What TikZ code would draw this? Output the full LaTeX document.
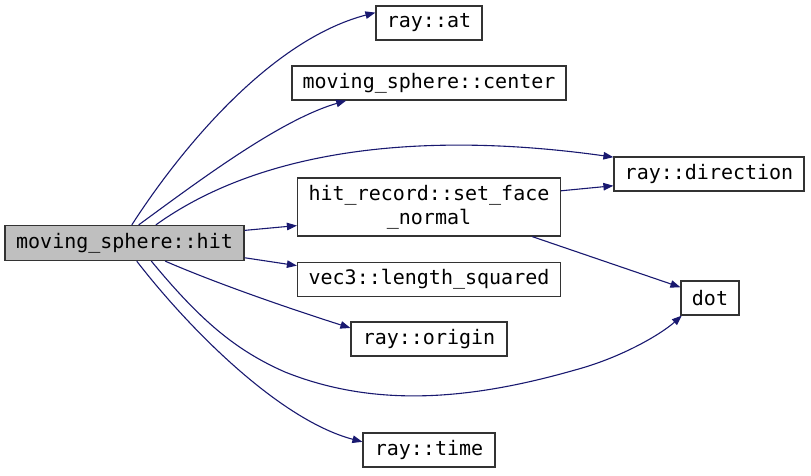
\documentclass[tikz,border=0pt]{standalone}
\usepackage{fontspec}
\setmonofont{DejaVu Sans Mono}
\usetikzlibrary{arrows.meta}
\definecolor{edgeblue}{HTML}{191970}
\definecolor{boxgray}{HTML}{BFBFBF}
\tikzset{
  fn/.style={draw=black!80, line width=1.2pt, fill=white, inner sep=0pt, minimum height=34pt,
    font=\ttfamily\fontsize{20}{24}\selectfont, align=center, anchor=center},
  cur/.style={fn, fill=boxgray},
  call/.style={draw=edgeblue, line width=1.1pt, -{Triangle[length=10pt,width=7.5pt]}},
}
\begin{document}
\begin{tikzpicture}[x=1pt,y=-1pt]
\useasboundingbox (0,0) rectangle (811,475);
\node[cur, minimum width=239pt, minimum height=35pt] (hit) at (124.5,243) {moving\_sphere::hit};
\node[fn, minimum width=106pt] (at) at (429,23) {ray::at};
\node[fn, minimum width=274pt] (msc) at (429,83) {moving\_sphere::center};
\node[fn, minimum width=190pt] (dir) at (709,174) {ray::direction};
\node[fn, minimum width=263pt, minimum height=58pt] (sfn) at (429,207) {hit\_record::set\_face\\\_normal};
\node[fn, minimum width=58pt] (dot) at (710,298) {dot};
\node[fn, minimum width=263pt] (vls) at (429,279.5) {vec3::length\_squared};
\node[fn, minimum width=156pt] (org) at (429,339) {ray::origin};
\node[fn, minimum width=132pt] (time) at (429,450) {ray::time};

\draw[call] (hit.68) .. controls (180,150) and (270,40) .. (at.169);
\draw[call] (hit.52) .. controls (200,180) and (280,120) .. (msc.192);
\draw[call] (hit.30) .. controls (260,150) and (420,130) .. (dir.170);
\draw[call] (hit.6) -- (sfn.188);
\draw[call] (sfn.7) -- (dir.187);
\draw[call] (sfn.-16) -- (dot.160);
\draw[call] (hit.-7) -- (vls.174);
\draw[call] (hit.-24) .. controls (220,285) and (300,312) .. (org.172);
\draw[call] (hit.-34) .. controls (200,320) and (235,350) .. (285,372)
  .. controls (375,408) and (470,400) .. (575,370)
  .. controls (620,358) and (660,335) .. (dot.-148);
\draw[call] (hit.-56) .. controls (190,330) and (280,420) .. (time.173);
\end{tikzpicture}
\end{document}
